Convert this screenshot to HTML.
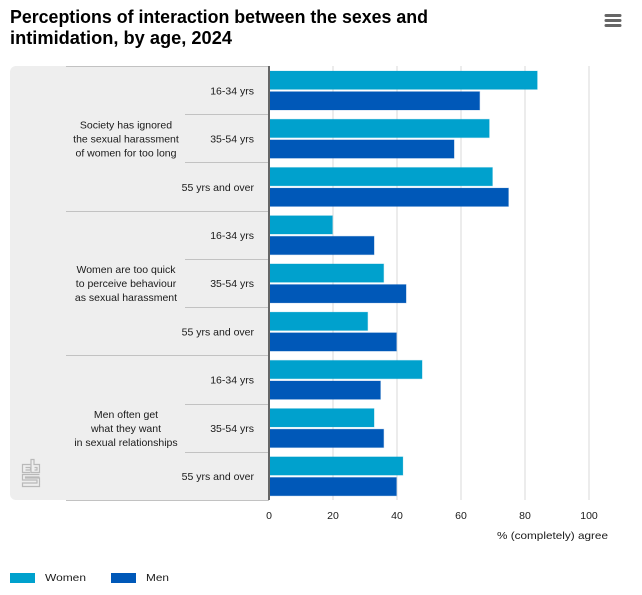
<!DOCTYPE html>
<html lang="en">
<head>
<meta charset="utf-8">
<title>Perceptions of interaction between the sexes and intimidation, by age, 2024</title>
<style>
html,body{margin:0;padding:0;background:#fff;width:642px;height:595px;overflow:hidden}
svg{display:block;font-family:"Liberation Sans",sans-serif}
.lbl{font-size:10.5px;fill:#1a1a1a}
</style>
</head>
<body>
<svg id="chart" width="642" height="595" viewBox="0 0 642 595" xmlns="http://www.w3.org/2000/svg">
  <g>
    <text x="10" y="23" font-size="18" font-weight="700" fill="#000" textLength="418" lengthAdjust="spacingAndGlyphs">Perceptions of interaction between the sexes and</text>
    <text x="10" y="44" font-size="18" font-weight="700" fill="#000" textLength="222" lengthAdjust="spacingAndGlyphs">intimidation, by age, 2024</text>
  </g>
  <g fill="#666">
    <rect x="604.5" y="14" width="17" height="3" rx="1.5"/>
    <rect x="604.5" y="19" width="17" height="3" rx="1.5"/>
    <rect x="604.5" y="24" width="17" height="3" rx="1.5"/>
  </g>
  <path d="M16 66H269V500H16a6 6 0 0 1-6-6V72a6 6 0 0 1 6-6z" fill="#eeeeee"/>
  <g id="grid"></g>
  <g id="separators"></g>
  <g id="bars"></g>
  <g id="labels"></g>
  <rect x="268" y="66" width="2" height="434" fill="#666"/>
  <g id="ticks"></g>
  <text class="lbl" x="608" y="539" text-anchor="end" textLength="111" lengthAdjust="spacingAndGlyphs">% (completely) agree</text>
  <g fill="none" stroke="#b9b9b9" stroke-width="1.2">
    <path d="M30.5 464.5H22.5V472.5H30.5M25.5 467.5H30.5V470H25.5"/>
    <path d="M31 472.5V459.5H34V464.5H39.5V472.5H31M34.5 467.5H37V470H34.5"/>
    <path d="M39.5 474.5H22.5V480H37V483H22.5V486.5H39.5V478H25.5V477H39.5"/>
  </g>
  <g>
    <g>
      <rect x="10" y="573" width="25" height="10" fill="#00a1cd"/>
      <text class="lbl" x="45" y="581" textLength="41" lengthAdjust="spacingAndGlyphs">Women</text>
    </g>
    <g>
      <rect x="111" y="573" width="25" height="10" fill="#0058b8"/>
      <text class="lbl" x="146" y="581" textLength="23" lengthAdjust="spacingAndGlyphs">Men</text>
    </g>
  </g>
</svg>
<script>
const groups = [
  ["Society has ignored", "the sexual harassment", "of women for too long"],
  ["Women are too quick", "to perceive behaviour", "as sexual harassment"],
  ["Men often get", "what they want", "in sexual relationships"]
];
const ages = ["16-34 yrs", "35-54 yrs", "55 yrs and over"];
const women = [84, 69, 70, 20, 36, 31, 48, 33, 42];
const men = [66, 58, 75, 33, 43, 40, 35, 36, 40];
const tickValues = [0, 20, 40, 60, 80, 100];

const NS = 'http://www.w3.org/2000/svg';
const plotTop = 66, plotBottom = 500, x0 = 269, x100 = 589;
const band = (plotBottom - plotTop) / women.length;
const barH = 18.4, barGap = 2.2, barPad = (band - 2 * barH - barGap) / 2 + 0.4;
const xScale = v => x0 + (x100 - x0) * v / 100;
const yScale = i => plotTop + band * i;

function make(parent, tag, attrs, text) {
  const el = document.createElementNS(NS, tag);
  for (const k in attrs) el.setAttribute(k, attrs[k]);
  if (text !== undefined) el.textContent = text;
  document.getElementById(parent).appendChild(el);
  return el;
}

tickValues.forEach(v => {
  if (v > 0) {
    const g = make('grid', 'line', {x1: xScale(v), x2: xScale(v), y1: plotTop, y2: plotBottom, stroke: '#e6e6e6', 'stroke-width': 1.5});
    
    
  }
  const t = make('ticks', 'text', {x: xScale(v), y: 519, 'text-anchor': 'middle', class: 'lbl'}, String(v));
  
  
});

for (let i = 0; i <= women.length; i++) {
  const major = i % ages.length === 0;
  const sy = Math.floor(yScale(i) + 0.5) + 0.5;
  const s = make('separators', 'line', {x1: major ? 66 : 185, x2: 269, y1: sy, y2: sy, stroke: '#c2c2c2', 'stroke-width': 1});
  
  
}

women.forEach((v, i) => {
  const a = make('bars', 'rect', {x: x0, y: yScale(i) + barPad, width: xScale(v) - x0 - 0.5, height: barH, fill: '#00a1cd', stroke: '#00a1cd', 'stroke-opacity': 0.2, 'stroke-width': 1});
  
  
});
men.forEach((v, i) => {
  const b = make('bars', 'rect', {x: x0, y: yScale(i) + barPad + barH + barGap, width: xScale(v) - x0 - 0.5, height: barH, fill: '#0058b8', stroke: '#0058b8', 'stroke-opacity': 0.2, 'stroke-width': 1});
  
  
});

women.forEach((v, i) => {
  const age = make('labels', 'text', {x: 254, y: yScale(i) + band / 2 + 4.2, 'text-anchor': 'end', class: 'lbl'}, ages[i % ages.length]);
  
  
});
groups.forEach((lines, g) => {
  const cy = yScale(g * ages.length) + band * ages.length / 2;
  lines.forEach((line, j) => {
    const t = make('labels', 'text', {x: 126, y: cy + (j - 1) * 14 + 4.2, 'text-anchor': 'middle', class: 'lbl'}, line);
    
    
  });
});
</script>
</body>
</html>
